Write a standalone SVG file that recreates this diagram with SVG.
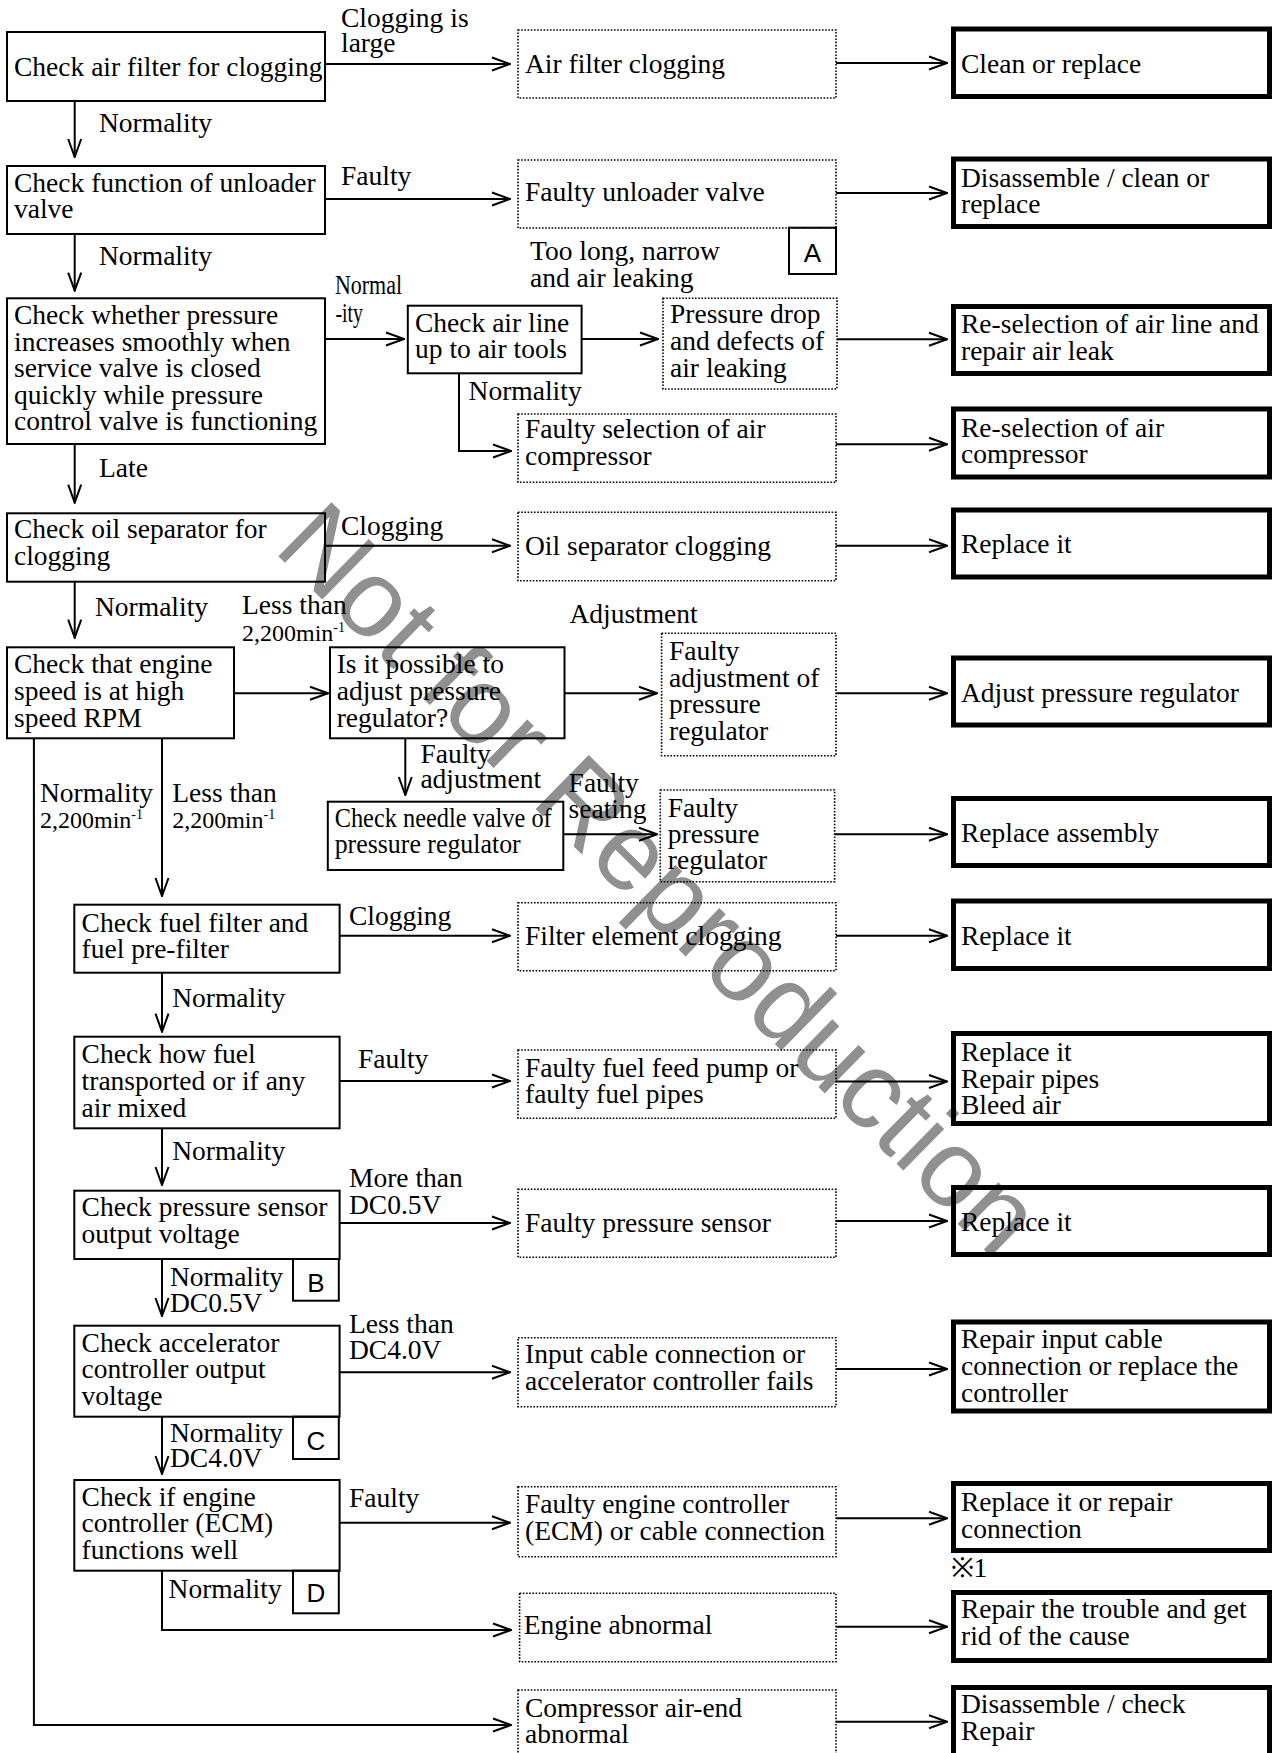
<svg xmlns="http://www.w3.org/2000/svg" width="1272" height="1753" viewBox="0 0 1272 1753">
<defs>
<marker id="arr" markerWidth="20" markerHeight="16" refX="19" refY="8" orient="auto" markerUnits="userSpaceOnUse">
<path d="M1,1.5 L19,8 L1,14.5" fill="none" stroke="#000" stroke-width="2"/>
</marker>
<style>
text{font-family:"Liberation Serif","Times New Roman",serif;font-size:27.5px;fill:#000}
.lab{font-family:"Liberation Sans",Arial,sans-serif;font-size:26px;text-anchor:middle}
.sm{font-size:24px}
.sup{font-size:14px}
.box{fill:none;stroke:#000;stroke-width:2}
.dot{fill:none;stroke:#000;stroke-width:1.6;stroke-dasharray:1.6 1.6}
.thk{fill:none;stroke:#000;stroke-width:5}
.con line,.con polyline{fill:none;stroke:#000;stroke-width:2}
.wm{font-family:"Liberation Sans",Arial,sans-serif;font-size:110px;fill:#909090}
</style>
</defs>
<rect width="1272" height="1753" fill="#fff"/>
<text class="wm" transform="translate(272,550) rotate(44.5)">Not for Reproduction</text>

<g id="connectors" class="con">
<line x1="325" y1="64" x2="510" y2="64" marker-end="url(#arr)"/>
<line x1="325" y1="199" x2="510" y2="199" marker-end="url(#arr)"/>
<line x1="325" y1="339" x2="404" y2="339" marker-end="url(#arr)"/>
<line x1="581.6" y1="339" x2="658" y2="339" marker-end="url(#arr)"/>
<polyline points="459,373.3 459,451 511,451" marker-end="url(#arr)"/>
<line x1="325" y1="545.7" x2="510" y2="545.7" marker-end="url(#arr)"/>
<line x1="234" y1="693.3" x2="328" y2="693.3" marker-end="url(#arr)"/>
<line x1="564.5" y1="693.3" x2="657" y2="693.3" marker-end="url(#arr)"/>
<line x1="405.3" y1="738.3" x2="405.3" y2="795" marker-end="url(#arr)"/>
<line x1="563.3" y1="834.3" x2="657" y2="834.3" marker-end="url(#arr)"/>
<line x1="339.6" y1="935.7" x2="510" y2="935.7" marker-end="url(#arr)"/>
<line x1="339.6" y1="1081" x2="510" y2="1081" marker-end="url(#arr)"/>
<line x1="339.6" y1="1223" x2="510" y2="1223" marker-end="url(#arr)"/>
<line x1="339.6" y1="1372.3" x2="510" y2="1372.3" marker-end="url(#arr)"/>
<line x1="339.6" y1="1522.7" x2="510" y2="1522.7" marker-end="url(#arr)"/>
<polyline points="162,1570.7 162,1630 511,1630" marker-end="url(#arr)"/>
<polyline points="33.9,738.3 33.9,1725 511,1725" marker-end="url(#arr)"/>
<line x1="74.7" y1="101" x2="74.7" y2="157" marker-end="url(#arr)"/>
<line x1="74.7" y1="234" x2="74.7" y2="290.7" marker-end="url(#arr)"/>
<line x1="74.7" y1="444" x2="74.7" y2="502.7" marker-end="url(#arr)"/>
<line x1="74.7" y1="581.7" x2="74.7" y2="637.7" marker-end="url(#arr)"/>
<line x1="162" y1="738.3" x2="162" y2="896" marker-end="url(#arr)"/>
<line x1="162" y1="972.7" x2="162" y2="1031.7" marker-end="url(#arr)"/>
<line x1="162" y1="1128.3" x2="162" y2="1185" marker-end="url(#arr)"/>
<line x1="162" y1="1259" x2="162" y2="1316" marker-end="url(#arr)"/>
<line x1="162" y1="1416.7" x2="162" y2="1474" marker-end="url(#arr)"/>
<line x1="836" y1="63" x2="947" y2="63" marker-end="url(#arr)"/>
<line x1="836" y1="193" x2="947" y2="193" marker-end="url(#arr)"/>
<line x1="837" y1="339.3" x2="947" y2="339.3" marker-end="url(#arr)"/>
<line x1="836" y1="444.3" x2="947" y2="444.3" marker-end="url(#arr)"/>
<line x1="836" y1="545.7" x2="947" y2="545.7" marker-end="url(#arr)"/>
<line x1="836" y1="693.3" x2="947" y2="693.3" marker-end="url(#arr)"/>
<line x1="834.6" y1="834.3" x2="947" y2="834.3" marker-end="url(#arr)"/>
<line x1="836" y1="935.7" x2="947" y2="935.7" marker-end="url(#arr)"/>
<line x1="836" y1="1081.5" x2="947" y2="1081.5" marker-end="url(#arr)"/>
<line x1="836" y1="1221" x2="947" y2="1221" marker-end="url(#arr)"/>
<line x1="836" y1="1369" x2="947" y2="1369" marker-end="url(#arr)"/>
<line x1="836" y1="1518.3" x2="947" y2="1518.3" marker-end="url(#arr)"/>
<line x1="836" y1="1626.7" x2="947" y2="1626.7" marker-end="url(#arr)"/>
<line x1="836" y1="1721.7" x2="947" y2="1721.7" marker-end="url(#arr)"/>
</g>

<g id="labels">
<text x="341" y="27">Clogging is</text><text x="341" y="52">large</text>
<text x="99" y="132">Normality</text>
<text x="341" y="185">Faulty</text>
<text x="99" y="265">Normality</text>
<text x="530" y="260">Too long, narrow</text><text x="530" y="287">and air leaking</text>
<text x="335" y="294" font-size="25" textLength="67" lengthAdjust="spacingAndGlyphs">Normal</text>
<text x="335.5" y="321.7" font-size="25" textLength="27.5" lengthAdjust="spacingAndGlyphs">-ity</text>
<text x="468.6" y="400">Normality</text>
<text x="99" y="477.3">Late</text>
<text x="341" y="535">Clogging</text>
<text x="95" y="616">Normality</text>
<text x="242" y="614">Less than</text>
<text x="242" y="640.7" class="sm">2,200min<tspan class="sup" dy="-9">-1</tspan></text>
<text x="569.4" y="623.3">Adjustment</text>
<text x="420.4" y="762.7">Faulty</text><text x="420.4" y="788.3">adjustment</text>
<text x="568.6" y="791.7">Faulty</text><text x="568.6" y="818.3">seating</text>
<text x="40" y="801.7">Normality</text>
<text x="40" y="828.3" class="sm">2,200min<tspan class="sup" dy="-9">-1</tspan></text>
<text x="172.2" y="801.7">Less than</text>
<text x="172.2" y="828.3" class="sm">2,200min<tspan class="sup" dy="-9">-1</tspan></text>
<text x="349" y="925">Clogging</text>
<text x="172.2" y="1006.7">Normality</text>
<text x="358" y="1068.3">Faulty</text>
<text x="172.2" y="1160">Normality</text>
<text x="349" y="1187.3">More than</text><text x="349" y="1214">DC0.5V</text>
<text x="170" y="1286">Normality</text><text x="170" y="1311.7">DC0.5V</text>
<text x="349" y="1333.3">Less than</text><text x="349" y="1359">DC4.0V</text>
<text x="170" y="1441.7">Normality</text><text x="170" y="1466.7">DC4.0V</text>
<text x="349" y="1507">Faulty</text>
<text x="168.6" y="1598.3">Normality</text>
<text x="950.6" y="1577.3">※1</text>
</g>

<g id="n1"><rect class="box" x="7" y="32" width="318" height="69"/><text x="14" y="76">Check air filter for clogging</text></g>
<g id="n2"><rect class="box" x="7" y="166" width="318" height="68"/><text x="14" y="191.5">Check function of unloader</text><text x="14" y="218">valve</text></g>
<g id="n3"><rect class="box" x="7" y="298.3" width="318" height="145.7"/><text x="14" y="324">Check whether pressure</text><text x="14" y="350.7">increases smoothly when</text><text x="14" y="377">service valve is closed</text><text x="14" y="403.5">quickly while pressure</text><text x="14" y="430">control valve is functioning</text></g>
<g id="n3a"><rect class="box" x="407.8" y="305.7" width="173.8" height="67.6"/><text x="415" y="331.7">Check air line</text><text x="415" y="358.3">up to air tools</text></g>
<g id="n4"><rect class="box" x="7" y="513.3" width="318" height="68.4"/><text x="14" y="538.3">Check oil separator for</text><text x="14" y="565">clogging</text></g>
<g id="n5"><rect class="box" x="7" y="647.3" width="227" height="91"/><text x="14" y="673.3">Check that engine</text><text x="14" y="700">speed is at high</text><text x="14" y="726.7">speed RPM</text></g>
<g id="n5a"><rect class="box" x="330" y="647.3" width="234.5" height="91"/><text x="336.7" y="673.3">Is it possible to</text><text x="336.7" y="700">adjust pressure</text><text x="336.7" y="726.7">regulator?</text></g>
<g id="n5b"><rect class="box" x="327.8" y="801.7" width="235.5" height="68.3"/><text x="334.7" y="826.7" font-size="25" textLength="217" lengthAdjust="spacingAndGlyphs">Check needle valve of</text><text x="334.7" y="853.3" font-size="25" textLength="186" lengthAdjust="spacingAndGlyphs">pressure regulator</text></g>
<g id="f1"><rect class="box" x="74.3" y="904.7" width="265.3" height="68"/><text x="81.6" y="931.7">Check fuel filter and</text><text x="81.6" y="958.3">fuel pre-filter</text></g>
<g id="f2"><rect class="box" x="74.3" y="1036.7" width="265.3" height="91.6"/><text x="81.6" y="1063.3">Check how fuel</text><text x="81.6" y="1090">transported or if any</text><text x="81.6" y="1116.7">air mixed</text></g>
<g id="f3"><rect class="box" x="74.3" y="1190.7" width="265.3" height="68.3"/><text x="81.6" y="1215.5">Check pressure sensor</text><text x="81.6" y="1243.3">output voltage</text></g>
<g id="f4"><rect class="box" x="74.3" y="1325.7" width="265.3" height="91"/><text x="81.6" y="1351.7">Check accelerator</text><text x="81.6" y="1378.3">controller output</text><text x="81.6" y="1405">voltage</text></g>
<g id="f5"><rect class="box" x="74.3" y="1480" width="265.3" height="90.7"/><text x="81.6" y="1505.7">Check if engine</text><text x="81.6" y="1532.3">controller (ECM)</text><text x="81.6" y="1559">functions well</text></g>
<g id="tagA"><rect class="box" x="789" y="227.7" width="47" height="46.3"/><text class="lab" x="812.5" y="262">A</text></g>
<g id="tagB"><rect class="box" x="293" y="1259" width="45.8" height="41.7"/><text class="lab" x="316" y="1292">B</text></g>
<g id="tagC"><rect class="box" x="293" y="1416.7" width="45.8" height="42.3"/><text class="lab" x="316" y="1450">C</text></g>
<g id="tagD"><rect class="box" x="293" y="1570.7" width="45.8" height="42.6"/><text class="lab" x="316" y="1602">D</text></g>

<g id="d1"><rect class="dot" x="518" y="30" width="318" height="68"/><text x="525" y="72.7">Air filter clogging</text></g>
<g id="d2"><rect class="dot" x="518" y="160" width="318" height="68"/><text x="525" y="201">Faulty unloader valve</text></g>
<g id="d3"><rect class="dot" x="663" y="298.3" width="174" height="90.7"/><text x="670" y="323.3">Pressure drop</text><text x="670" y="350">and defects of</text><text x="670" y="376.7">air leaking</text></g>
<g id="d4"><rect class="dot" x="518" y="414" width="318" height="68.3"/><text x="525" y="438.3">Faulty selection of air</text><text x="525" y="465">compressor</text></g>
<g id="d5"><rect class="dot" x="518" y="512.3" width="318" height="68.4"/><text x="525" y="554.5">Oil separator clogging</text></g>
<g id="d6"><rect class="dot" x="661.6" y="633.3" width="174.4" height="122.4"/><text x="669" y="660">Faulty</text><text x="669" y="686.7">adjustment of</text><text x="669" y="713.3">pressure</text><text x="669" y="740">regulator</text></g>
<g id="d7"><rect class="dot" x="660.3" y="790" width="174.3" height="91.7"/><text x="667.8" y="816.7">Faulty</text><text x="667.8" y="843.3">pressure</text><text x="667.8" y="869.3">regulator</text></g>
<g id="d8"><rect class="dot" x="518" y="902.7" width="318" height="68"/><text x="525" y="945">Filter element clogging</text></g>
<g id="d9"><rect class="dot" x="518" y="1050" width="318" height="68.3"/><text x="525" y="1076.7">Faulty fuel feed pump or</text><text x="525" y="1103.3">faulty fuel pipes</text></g>
<g id="d10"><rect class="dot" x="518" y="1189.3" width="318" height="68"/><text x="525" y="1231.7">Faulty pressure sensor</text></g>
<g id="d11"><rect class="dot" x="518" y="1337.7" width="318" height="69"/><text x="525" y="1363.3">Input cable connection or</text><text x="525" y="1390">accelerator controller fails</text></g>
<g id="d12"><rect class="dot" x="518" y="1486.7" width="318" height="70"/><text x="525" y="1513.3">Faulty engine controller</text><text x="525" y="1540">(ECM) or cable connection</text></g>
<g id="d13"><rect class="dot" x="519.6" y="1593.3" width="316.4" height="68.4"/><text x="523.7" y="1634">Engine abnormal</text></g>
<g id="d14"><rect class="dot" x="518" y="1690" width="318" height="70"/><text x="525" y="1716.7">Compressor air-end</text><text x="525" y="1743.3">abnormal</text></g>

<g id="r1"><rect class="thk" x="953.5" y="29" width="316" height="67.5"/><text x="961" y="72.7">Clean or replace</text></g>
<g id="r2"><rect class="thk" x="953.5" y="159" width="316" height="67.5"/><text x="961" y="186.7">Disassemble / clean or</text><text x="961" y="213.3">replace</text></g>
<g id="r3"><rect class="thk" x="953.5" y="306.5" width="316" height="67"/><text x="961" y="333.3">Re-selection of air line and</text><text x="961" y="360">repair air leak</text></g>
<g id="r4"><rect class="thk" x="953.5" y="409" width="316" height="68"/><text x="961" y="436.7">Re-selection of air</text><text x="961" y="463.3">compressor</text></g>
<g id="r5"><rect class="thk" x="953.5" y="510" width="316" height="67"/><text x="961" y="553.3">Replace it</text></g>
<g id="r6"><rect class="thk" x="953.5" y="658" width="316" height="67"/><text x="961" y="701.7">Adjust pressure regulator</text></g>
<g id="r7"><rect class="thk" x="953.5" y="798.5" width="316" height="67"/><text x="961" y="841.7">Replace assembly</text></g>
<g id="r8"><rect class="thk" x="953.5" y="901" width="316" height="67.5"/><text x="961" y="945">Replace it</text></g>
<g id="r9"><rect class="thk" x="953.5" y="1033.5" width="316" height="90"/><text x="961" y="1061">Replace it</text><text x="961" y="1088.3">Repair pipes</text><text x="961" y="1114.3">Bleed air</text></g>
<g id="r10"><rect class="thk" x="953.5" y="1187.5" width="316" height="67"/><text x="961" y="1230.7">Replace it</text></g>
<g id="r11"><rect class="thk" x="953.5" y="1322" width="316" height="89"/><text x="961" y="1348.3">Repair input cable</text><text x="961" y="1375">connection or replace the</text><text x="961" y="1401.7">controller</text></g>
<g id="r12"><rect class="thk" x="953.5" y="1483.5" width="316" height="67"/><text x="961" y="1510.7">Replace it or repair</text><text x="961" y="1537.7">connection</text></g>
<g id="r13"><rect class="thk" x="953.5" y="1592.5" width="316" height="68"/><text x="961" y="1618.3">Repair the trouble and get</text><text x="961" y="1645">rid of the cause</text></g>
<g id="r14"><rect class="thk" x="953.5" y="1687.5" width="316" height="70"/><text x="961" y="1713.3">Disassemble / check</text><text x="961" y="1740">Repair</text></g>
</svg>
